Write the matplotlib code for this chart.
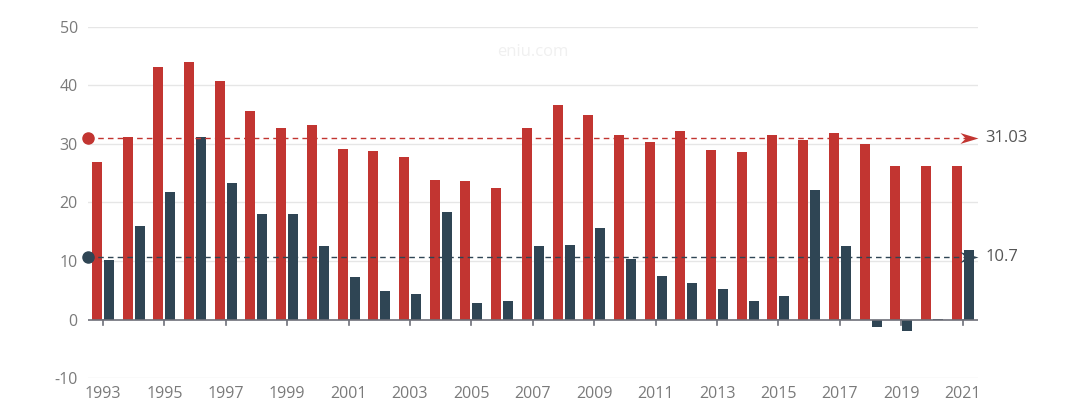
import matplotlib
matplotlib.use("Agg")
import matplotlib.pyplot as plt
from matplotlib.path import Path
import numpy as np

years = list(range(1993, 2022))
red_values = [26.9, 31.2, 43.2, 44.0, 40.8, 35.7, 32.8, 33.3, 29.2, 28.8,
              27.8, 23.9, 23.7, 22.4, 32.8, 36.7, 35.0, 31.6, 30.4, 32.2,
              28.9, 28.7, 31.5, 30.7, 31.8, 30.0, 26.3, 26.3, 26.3]
dark_values = [10.2, 15.9, 21.8, 31.2, 23.4, 18.1, 18.0, 12.6, 7.2, 4.8,
               4.3, 18.4, 2.9, 3.1, 12.5, 12.8, 15.7, 10.4, 7.4, 6.3,
               5.2, 3.2, 4.1, 22.2, 12.6, -1.3, -1.9, 0.1, 11.9]
red_avg = 31.03
dark_avg = 10.7

RED = "#c23531"
DARK = "#2f4554"
GRID = "#e6e6e6"
LABEL = "#7a7a7a"

plt.rcParams["font.family"] = ["Open Sans", "DejaVu Sans"]
plt.rcParams["axes.unicode_minus"] = False

fig = plt.figure(figsize=(10.8, 4.12), dpi=100)
ax = fig.add_axes((0.0811, 0.0825, 0.8245, 0.852))

x = np.arange(len(years))
bw = 0.326
ax.bar(x - 0.195, red_values, bw, color=RED, zorder=3)
ax.bar(x + 0.195, dark_values, bw, color=DARK, zorder=3)

ax.set_xlim(-0.5, len(years) - 0.5)
ax.set_ylim(-10, 50)
ax.set_yticks(range(-10, 51, 10))
for v in range(-10, 51, 10):
    if v != 0:
        ax.axhline(v, color=GRID, lw=1, zorder=1)
ax.axhline(0, color="#6e7079", lw=1.2, zorder=4)

for sp in ax.spines.values():
    sp.set_visible(False)

ax.set_xticks(x[::2])
ax.set_xticklabels([str(y) for y in years[::2]])
ax.tick_params(axis="x", length=0, labelsize=11.5, labelcolor=LABEL, pad=6)
ax.tick_params(axis="y", length=0, labelsize=11.5, labelcolor=LABEL, pad=7)
for xi in x[::2]:
    ax.plot([xi, xi], [0, -0.9], color="#6e7079", lw=1.2, zorder=4, clip_on=False)

# notched arrow head, tip at the origin
arrow = Path([(0, 0), (-1, 0.3), (-0.7, 0), (-1, -0.3), (0, 0)],
             [Path.MOVETO, Path.LINETO, Path.LINETO, Path.LINETO, Path.CLOSEPOLY])

# average mark lines
x_end = len(years) - 0.5
for val, col, txt in [(red_avg, RED, "31.03"), (dark_avg, DARK, "10.7")]:
    ax.plot([-0.5, x_end - 0.3], [val, val], color=col, lw=1,
            ls=(0, (4, 3)), zorder=5, clip_on=False)
    ax.plot(-0.5, val, "o", color=col, ms=8, zorder=6, clip_on=False)
    ax.plot(x_end, val, marker=arrow, color=col, ms=26, mew=0,
            zorder=6, clip_on=False)
    ax.text(x_end + 0.25, val, txt, color="#555555", fontsize=12,
            va="center", ha="left", clip_on=False)

ax.text(0.5, 0.93, "eniu.com", transform=ax.transAxes, color="#f0f0f0",
        fontsize=12, ha="center", va="center", zorder=0)

fig.savefig("out.png", dpi=100)
